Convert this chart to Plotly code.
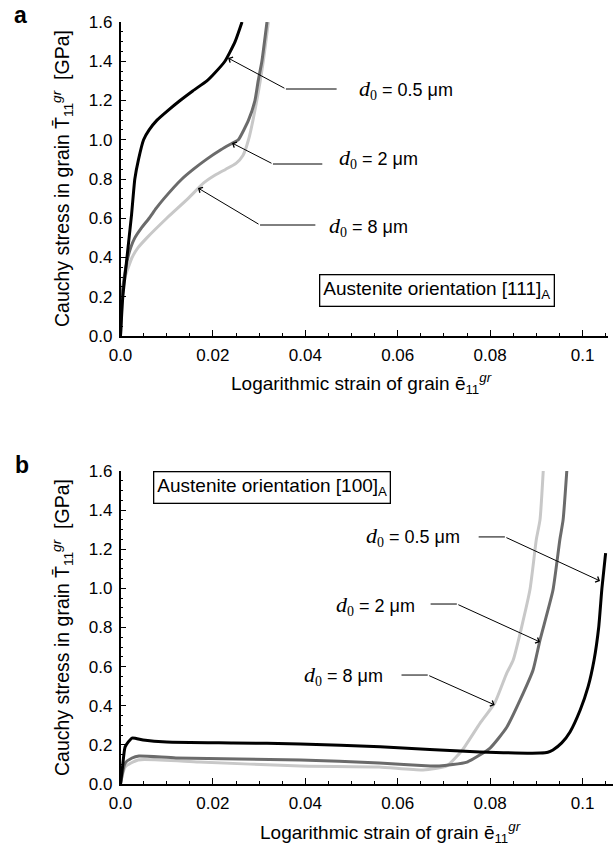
import plotly.graph_objects as go

# ---------------- data ----------------
# Panel a: austenite orientation [111]
a_x_05 = [0, 0.0005, 0.0014, 0.0024, 0.0031, 0.0039, 0.0050, 0.0062, 0.0079, 0.0103, 0.0129, 0.0157, 0.0187, 0.0200, 0.0226, 0.0248, 0.0263]
a_y_05 = [0, 0.20, 0.40, 0.62, 0.80, 0.90, 1.00, 1.05, 1.10, 1.15, 1.20, 1.25, 1.30, 1.33, 1.40, 1.50, 1.60]

a_x_2 = [0, 0.0003, 0.0008, 0.0016, 0.0022, 0.0031, 0.0045, 0.0062, 0.0077, 0.0094, 0.0133, 0.0158, 0.0186, 0.0218, 0.0240, 0.0255, 0.0277, 0.0291, 0.0298, 0.0306, 0.0317]
a_y_2 = [0, 0.20, 0.30, 0.40, 0.45, 0.50, 0.55, 0.60, 0.65, 0.70, 0.80, 0.85, 0.90, 0.95, 0.98, 1.00, 1.10, 1.20, 1.30, 1.40, 1.60]

a_x_8 = [0, 0.0004, 0.0010, 0.0017, 0.0025, 0.0038, 0.0057, 0.0100, 0.0146, 0.0180, 0.0205, 0.0228, 0.0250, 0.0265, 0.0277, 0.0295, 0.0309, 0.0320]
a_y_8 = [0, 0.20, 0.30, 0.35, 0.40, 0.45, 0.50, 0.60, 0.70, 0.78, 0.82, 0.85, 0.88, 0.92, 1.00, 1.20, 1.40, 1.60]

# Panel b: austenite orientation [100]
b_x_05 = [0, 0.0005, 0.0010, 0.0025, 0.0049, 0.0100, 0.0244, 0.0389, 0.0562, 0.0778, 0.0908, 0.0925, 0.0936, 0.0955, 0.0973, 0.0995, 0.1012, 0.1025, 0.1035, 0.1042, 0.1050]
b_y_05 = [0, 0.10, 0.19, 0.235, 0.225, 0.215, 0.210, 0.205, 0.190, 0.164, 0.158, 0.162, 0.174, 0.210, 0.266, 0.378, 0.496, 0.634, 0.800, 1.000, 1.180]

b_x_2 = [0, 0.0010, 0.0025, 0.0040, 0.0120, 0.0390, 0.0560, 0.0670, 0.0690, 0.0750, 0.0800, 0.0836, 0.0865, 0.0893, 0.0908, 0.0936, 0.0951, 0.0958, 0.0966]
b_y_2 = [0, 0.107, 0.133, 0.143, 0.133, 0.123, 0.107, 0.092, 0.092, 0.112, 0.184, 0.290, 0.430, 0.583, 0.736, 0.990, 1.250, 1.350, 1.600]

b_x_8 = [0, 0.0010, 0.0038, 0.0170, 0.0390, 0.0560, 0.0655, 0.0706, 0.0740, 0.0778, 0.0810, 0.0836, 0.0850, 0.0886, 0.0900, 0.0908, 0.0915]
b_y_8 = [0, 0.087, 0.123, 0.112, 0.092, 0.087, 0.072, 0.092, 0.174, 0.310, 0.414, 0.567, 0.634, 0.990, 1.250, 1.350, 1.600]

grain_labels = ["0.5", "2", "8"]
x_tickvals = [0, 0.02, 0.04, 0.06, 0.08, 0.1]
x_ticktext = ["0.0", "0.02", "0.04", "0.06", "0.08", "0.1"]
y_tickvals = [0, 0.2, 0.4, 0.6, 0.8, 1.0, 1.2, 1.4, 1.6]
y_ticktext = ["0.0", "0.2", "0.4", "0.6", "0.8", "1.0", "1.2", "1.4", "1.6"]

colors = ["#000000", "#6b6b6b", "#c8c8c8"]
W, H = 613, 851
SANS = "Liberation Sans, Arial, Helvetica, sans-serif"
SERIF = "Liberation Serif, Times New Roman, serif"

fig = go.Figure()
for xs, ys, c in zip([a_x_8, a_x_2, a_x_05], [a_y_8, a_y_2, a_y_05], colors[::-1]):
    fig.add_trace(go.Scatter(x=xs, y=ys, mode="lines", line=dict(color=c, width=3, shape="spline", smoothing=0.5),
                             xaxis="x", yaxis="y", showlegend=False, hoverinfo="skip"))
for xs, ys, c in zip([b_x_8, b_x_2, b_x_05], [b_y_8, b_y_2, b_y_05], colors[::-1]):
    fig.add_trace(go.Scatter(x=xs, y=ys, mode="lines", line=dict(color=c, width=3, shape="spline", smoothing=0.5),
                             xaxis="x2", yaxis="y2", showlegend=False, hoverinfo="skip"))

axis_common = dict(showline=True, linecolor="black", linewidth=1.5, ticks="inside", ticklen=6, tickwidth=1.3,
                   tickcolor="black", showgrid=False, zeroline=False, mirror=False, automargin=False,
                   tickfont=dict(family=SANS, size=17, color="black"), tickmode="array")

xa = dict(axis_common, tickvals=x_tickvals, ticktext=x_ticktext, ticklabelstandoff=3,
          minor=dict(dtick=0.005, tick0=0, ticklen=3, ticks="inside", tickcolor="black", tickwidth=1.2))
ya = dict(axis_common, tickvals=y_tickvals, ticktext=y_ticktext, ticklabelstandoff=3,
          minor=dict(dtick=0.05, tick0=0, ticklen=3, ticks="inside", tickcolor="black", tickwidth=1.2))

x0 = 120.5 / W
fig.update_layout(
    width=W, height=H, margin=dict(l=0, r=0, t=0, b=0, autoexpand=False),
    paper_bgcolor="white", plot_bgcolor="white",
    xaxis=dict(xa, domain=[x0, 607.5 / W], range=[0, 0.1054], anchor="y"),
    yaxis=dict(ya, domain=[1 - 336 / H, 1 - 22 / H], range=[0, 1.6], anchor="x"),
    xaxis2=dict(xa, domain=[x0, 1.0], range=[0, 0.1066], anchor="y2"),
    yaxis2=dict(ya, domain=[1 - 784 / H, 1 - 471 / H], range=[0, 1.6], anchor="x2"),
)

def d_label(val):
    return (f"<span style='font-family:{SERIF}; font-size:22px'><i>d</i></span>"
            f"<span style='font-family:{SERIF}; font-size:20px'><sub>0</sub></span> = {val} \u03bcm")

annos = []

# callouts: (xref, yref, tip, bend, end, text x, text y, anchor, label)
callouts = [
    ("x", "y", (0.02327, 1.4166), (0.0358, 1.2586), (0.0471, 1.2586), 0.0512, 1.2586, "left", grain_labels[0]),
    ("x", "y", (0.02413, 0.9834), (0.0330, 0.8764), (0.0440, 0.8764), 0.0469, 0.905, "left", grain_labels[1]),
    ("x", "y", (0.01677, 0.7541), (0.0302, 0.5656), (0.0425, 0.5656), 0.0447, 0.560, "left", grain_labels[2]),
    ("x2", "y2", (0.1038, 1.038), (0.0832, 1.263), (0.0772, 1.263), 0.0739, 1.263, "right", grain_labels[0]),
    ("x2", "y2", (0.0908, 0.726), (0.0728, 0.920), (0.0668, 0.920), 0.0642, 0.915, "right", grain_labels[1]),
    ("x2", "y2", (0.0810, 0.404), (0.0665, 0.557), (0.0605, 0.557), 0.0572, 0.557, "right", grain_labels[2]),
]
for xr, yr, tip, bend, end, tx, ty, anc, lab in callouts:
    # diagonal leader with arrowhead
    annos.append(dict(x=tip[0], y=tip[1], ax=bend[0], ay=bend[1], xref=xr, yref=yr, axref=xr, ayref=yr,
                      text="", showarrow=True, arrowhead=4, arrowsize=1.2, arrowwidth=1, arrowcolor="black",
                      standoff=0, startstandoff=0))
    # horizontal leader segment
    annos.append(dict(x=bend[0], y=bend[1], ax=end[0], ay=end[1], xref=xr, yref=yr, axref=xr, ayref=yr,
                      text="", showarrow=True, arrowhead=0, arrowwidth=1, arrowcolor="black",
                      standoff=0, startstandoff=0))
    annos.append(dict(x=tx, y=ty, xref=xr, yref=yr, text=d_label(lab), showarrow=False,
                      xanchor=anc, yanchor="middle", font=dict(family=SANS, size=18, color="black")))

# orientation boxes
annos.append(dict(x=436.5 / W, y=1 - 290.5 / H, xref="paper", yref="paper",
                  text="Austenite orientation [111]<sub>A</sub>", showarrow=False,
                  font=dict(family=SANS, size=19, color="black"), bordercolor="black", borderwidth=1.3,
                  borderpad=3, bgcolor="white", xanchor="center", yanchor="middle"))
annos.append(dict(x=271.5 / W, y=1 - 487 / H, xref="paper", yref="paper",
                  text="Austenite orientation [100]<sub>A</sub>", showarrow=False,
                  font=dict(family=SANS, size=19, color="black"), bordercolor="black", borderwidth=1.3,
                  borderpad=3, bgcolor="white", xanchor="center", yanchor="middle"))

# panel letters
annos.append(dict(x=20 / W, y=1 - 15 / H, xref="paper", yref="paper", text="<b>a</b>", showarrow=False,
                  font=dict(family=SANS, size=23, color="black"), xanchor="center", yanchor="middle"))
annos.append(dict(x=22 / W, y=1 - 465 / H, xref="paper", yref="paper", text="<b>b</b>", showarrow=False,
                  font=dict(family=SANS, size=23, color="black"), xanchor="center", yanchor="middle"))

# axis titles
ytitle = "Cauchy stress in grain T\u0304<sub>11</sub><sup><i>gr</i></sup>  [GPa]"
xtitle = "Logarithmic strain of grain e\u0304<sub>11</sub><sup><i>gr</i></sup>"
for yc in [1 - 179 / H, 1 - 628 / H]:
    annos.append(dict(x=62 / W, y=yc, xref="paper", yref="paper", text=ytitle, textangle=-90, showarrow=False,
                      font=dict(family=SANS, size=19.5, color="black"), xanchor="center", yanchor="middle"))
annos.append(dict(x=229 / W, y=1 - 384 / H, xref="paper", yref="paper", text=xtitle, showarrow=False,
                  font=dict(family=SANS, size=19, color="black"), xanchor="left", yanchor="middle"))
annos.append(dict(x=258 / W, y=1 - 832 / H, xref="paper", yref="paper", text=xtitle, showarrow=False,
                  font=dict(family=SANS, size=19, color="black"), xanchor="left", yanchor="middle"))

fig.update_layout(annotations=annos)
fig.write_html("out.html", config={"displayModeBar": False},
               post_script="document.body.style.margin='0';document.body.style.padding='0';")
